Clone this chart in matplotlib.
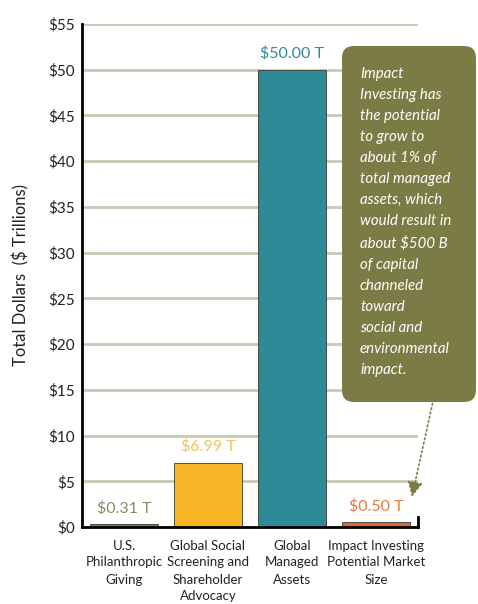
import matplotlib
matplotlib.use("Agg")
import matplotlib.pyplot as plt
from matplotlib.patches import FancyBboxPatch
from matplotlib.transforms import IdentityTransform

categories = ["U.S.\nPhilanthropic\nGiving",
              "Global Social\nScreening and\nShareholder\nAdvocacy",
              "Global\nManaged\nAssets",
              "Impact Investing\nPotential Market\nSize"]
values = [0.31, 6.99, 50.00, 0.50]
value_labels = ["$0.31 T", "$6.99 T", "$50.00 T", "$0.50 T"]
bar_colors = ["#7d7d55", "#f8b424", "#2e8a96", "#e0692c"]
label_colors = ["#8c8c6a", "#f2c45a", "#2e8a96", "#e07a40"]
yticks = [0, 5, 10, 15, 20, 25, 30, 35, 40, 45, 50, 55]
ytick_labels = ["$%d" % v for v in yticks]
note = ("Impact\nInvesting has\nthe potential\nto grow to\nabout 1% of\ntotal managed\n"
        "assets, which\nwould result in\nabout $500 B\nof capital\nchanneled\ntoward\n"
        "social and\nenvironmental\nimpact.")

plt.rcParams['font.family'] = ['Lato', 'DejaVu Sans']

fig = plt.figure(figsize=(4.78, 6.04), dpi=100)
ax = fig.add_axes([82/478, 1-527/604, 336/478, 503/604])

x = list(range(len(categories)))
ax.bar(x, values, width=0.8, color=bar_colors, edgecolor="#3a3a2a", linewidth=0.6, zorder=3)
for xi, v, lab, c in zip(x, values, value_labels, label_colors):
    ax.text(xi, v + 1.0, lab, ha="center", va="bottom", color=c, fontsize=11.5)

ax.set_xlim(-0.5, 3.5)
ax.set_ylim(0, 55)
ax.set_yticks(yticks)
ax.set_yticklabels(ytick_labels, fontsize=11, color="#222222")
ax.set_xticks(x)
ax.set_xticklabels(categories, fontsize=9.5, color="#222222", linespacing=1.5, va="top")
ax.tick_params(axis="x", length=0, pad=9)
ax.tick_params(axis="y", length=0, pad=5)
ax.yaxis.grid(True, color="#c9c9b4", linewidth=2, zorder=0)
ax.set_axisbelow(True)
for s in ["top", "right"]:
    ax.spines[s].set_visible(False)
ax.spines["left"].set_linewidth(2)
ax.spines["bottom"].set_linewidth(2)
ax.spines["left"].set_zorder(4)
ax.spines["bottom"].set_zorder(4)
ax.plot([3.5, 3.5], [0, 1.1], color="black", linewidth=2, clip_on=False, zorder=4)
ax.set_ylabel("Total Dollars  ($ Trillions)", fontsize=12, color="#222222", labelpad=14)

box = FancyBboxPatch((342, 604-402), 134, 356, boxstyle="round,pad=0,rounding_size=12",
                     transform=IdentityTransform(), facecolor="#7b7b45", edgecolor="none", zorder=5)
fig.add_artist(box)
fig.text(360/478, 1-67/604, note, ha="left", va="top", color="white", fontsize=10.8,
         style="italic", linespacing=1.64, zorder=6)

ax.annotate("", xy=(3.42, 3.0), xytext=(3.68, 13.8),
            arrowprops=dict(arrowstyle="-|>,head_length=0.9,head_width=0.45", linestyle=":",
                            color="#7b7b45", lw=1.2),
            annotation_clip=False, zorder=6)

fig.savefig("out.png", dpi=100, facecolor="white")
